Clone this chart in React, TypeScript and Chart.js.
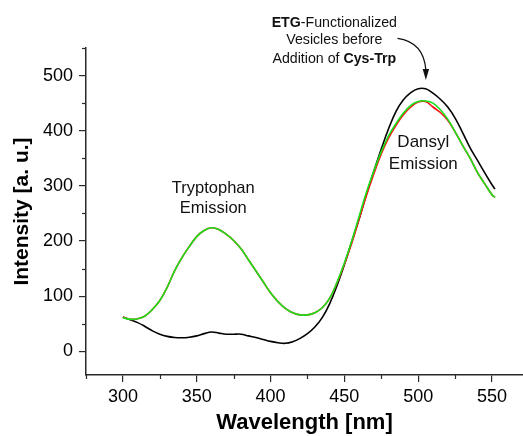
import { useEffect, useRef } from "react";
import { Chart, registerables } from "chart.js";

Chart.register(...registerables);

const wavelengths = [
  300, 305, 310, 315, 320, 325, 330, 335, 340, 345, 350, 355, 360, 365, 370, 375, 380, 385, 390, 395,
  400, 405, 410, 415, 420, 425, 430, 435, 440, 445, 450, 455, 460, 465, 470, 475, 480, 485, 490, 495,
  500, 505, 510, 515, 520, 525, 530, 535, 540, 545, 550, 552,
];

const beforeCysTrp = [
  62, 57, 52, 45, 37, 31, 27, 25, 24.5, 25.5, 28, 32, 35, 33, 31, 31, 31, 28, 25, 21.5,
  18, 15.5, 14.5, 17.5, 23.5, 32, 44, 61, 86, 119, 157, 199, 240, 285, 327, 367, 404, 435, 456, 469,
  476, 476, 468, 457, 443, 423, 397, 370, 347, 324, 302, 294,
];

const afterCysTrpRed = [
  62, 58, 59, 64, 76, 92, 116, 146, 170, 190, 208, 219, 224, 221, 212, 201, 186, 166, 146, 126,
  106, 90, 78, 70, 66, 66, 70, 79, 96, 124, 158, 196, 240, 283, 322, 358, 387, 410, 429, 443,
  452, 453, 443, 433, 419, 398, 374, 351, 325, 304, 284, 279,
];

const afterCysTrpGreen = [
  61, 58, 59, 64, 76, 92, 116, 146, 170, 190, 208, 219, 224, 221, 212, 201, 186, 166, 146, 126,
  106, 90, 78, 70, 66, 66, 70, 79, 96, 125, 160, 200, 245, 289, 327, 362, 391, 413, 432, 446,
  453, 454, 450, 438, 421, 398, 374, 351, 325, 304, 284, 279,
];

const xTickValues = [300, 350, 400, 450, 500, 550];
const yTickValues = [0, 100, 200, 300, 400, 500];
const xMinorTicks = [275, 325, 375, 425, 475, 525, 575];
const yMinorTicks = [50, 150, 250, 350, 450, 550];

const FONT = "'Liberation Sans', Arial, Helvetica, sans-serif";
const AXIS_COLOR = "#2a2a2a";

type Part = [string, boolean];
type Label = { parts: Part[]; x: number; y: number; size: number };

const textLabels: Label[] = [
  { parts: [["Tryptophan", false]], x: 361.2, y: 286.5, size: 16.5 },
  { parts: [["Emission", false]], x: 361.2, y: 251, size: 16.5 },
  { parts: [["Dansyl", false]], x: 503.5, y: 370, size: 17 },
  { parts: [["Emission", false]], x: 503.5, y: 330, size: 17 },
  { parts: [["ETG", true], ["-Functionalized", false]], x: 443.2, y: 588.7, size: 14.2 },
  { parts: [["Vesicles before", false]], x: 443.2, y: 556.7, size: 14.2 },
  { parts: [["Addition of ", false], ["Cys-Trp", true]], x: 443.2, y: 522.3, size: 14.2 },
];

const arrowPath = {
  start: { x: 486, y: 567.6 },
  control: { x: 503.8, y: 560.9 },
  end: { x: 505.2, y: 510.1 },
  tip: { x: 505.2, y: 492 },
};

const overlayPlugin = {
  id: "overlay",
  afterDraw(chart: any) {
    const { ctx, chartArea, scales } = chart;
    const xs = scales.x;
    const ys = scales.y;
    ctx.save();
    // minor ticks
    ctx.strokeStyle = AXIS_COLOR;
    ctx.lineWidth = 1.2;
    xMinorTicks.forEach((v) => {
      const px = Math.round(xs.getPixelForValue(v)) + 0.5;
      if (px > chart.width) return;
      ctx.beginPath();
      ctx.moveTo(px, chartArea.bottom);
      ctx.lineTo(px, chartArea.bottom + 4);
      ctx.stroke();
    });
    yMinorTicks.forEach((v) => {
      const py = Math.round(ys.getPixelForValue(v)) + 0.5;
      ctx.beginPath();
      ctx.moveTo(chartArea.left, py);
      ctx.lineTo(chartArea.left - 4, py);
      ctx.stroke();
    });

    // text labels
    ctx.fillStyle = "#111";
    ctx.textBaseline = "alphabetic";
    ctx.textAlign = "left";
    textLabels.forEach((lab) => {
      const widths = lab.parts.map(([t, b]) => {
        ctx.font = `${b ? "bold " : ""}${lab.size}px ${FONT}`;
        return ctx.measureText(t).width;
      });
      const total = widths.reduce((a, b) => a + b, 0);
      let cx = xs.getPixelForValue(lab.x) - total / 2;
      const cy = ys.getPixelForValue(lab.y);
      lab.parts.forEach(([t, b], i) => {
        ctx.font = `${b ? "bold " : ""}${lab.size}px ${FONT}`;
        ctx.fillText(t, cx, cy);
        cx += widths[i];
      });
    });

    // arrow
    const p = (pt: { x: number; y: number }) => [xs.getPixelForValue(pt.x), ys.getPixelForValue(pt.y)];
    const [sx, sy] = p(arrowPath.start);
    const [qx, qy] = p(arrowPath.control);
    const [ex, ey] = p(arrowPath.end);
    const [tx, ty] = p(arrowPath.tip);
    ctx.strokeStyle = "#111";
    ctx.lineWidth = 1.3;
    ctx.beginPath();
    ctx.moveTo(sx, sy);
    ctx.quadraticCurveTo(qx, qy, ex, ey);
    ctx.stroke();
    ctx.fillStyle = "#111";
    ctx.beginPath();
    ctx.moveTo(tx, ty);
    ctx.lineTo(tx - 3.2, ey - 1);
    ctx.lineTo(tx + 3.2, ey - 1);
    ctx.closePath();
    ctx.fill();
    ctx.restore();
  },
};

export default function App() {
  const canvasRef = useRef<HTMLCanvasElement | null>(null);

  useEffect(() => {
    const canvas = canvasRef.current;
    if (!canvas) return;
    const toPoints = (vals: number[]) => wavelengths.map((w, i) => ({ x: w, y: vals[i] }));
    const lineStyle = { borderWidth: 1.6, pointRadius: 0, fill: false, tension: 0.4 };
    const chart = new Chart(canvas, {
      type: "line",
      data: {
        datasets: [
          { label: "After (green)", data: toPoints(afterCysTrpGreen), borderColor: "#19e019", ...lineStyle },
          { label: "After (red)", data: toPoints(afterCysTrpRed), borderColor: "#ff1010", ...lineStyle },
          { label: "Before", data: toPoints(beforeCysTrp), borderColor: "#000000", ...lineStyle },
        ],
      },
      options: {
        responsive: false,
        maintainAspectRatio: false,
        devicePixelRatio: 1,
        animation: false,
        layout: { padding: { top: 48, left: 0, right: 0, bottom: 0 } },
        plugins: { legend: { display: false }, tooltip: { enabled: false } },
        scales: {
          x: {
            type: "linear",
            min: 275,
            max: 571,
            afterBuildTicks: (s: any) => {
              s.ticks = xTickValues.map((v) => ({ value: v }));
            },
            afterFit: (s: any) => {
              s.height = 61;
            },
            grid: {
              display: true,
              drawOnChartArea: false,
              drawTicks: true,
              tickLength: 7,
              color: AXIS_COLOR,
              lineWidth: 1.2,
            },
            border: { display: true, color: AXIS_COLOR, width: 1.5 },
            ticks: {
              color: "#000",
              font: { size: 18, family: FONT },
              padding: 4,
              maxRotation: 0,
              autoSkip: false,
            },
            title: {
              display: true,
              text: "Wavelength [nm]",
              color: "#000",
              font: { size: 22, weight: "bold", family: FONT },
              padding: { top: 0, bottom: 0 },
            },
          },
          y: {
            type: "linear",
            min: -43,
            max: 550,
            afterBuildTicks: (s: any) => {
              s.ticks = yTickValues.map((v) => ({ value: v }));
            },
            afterFit: (s: any) => {
              s.width = 86;
            },
            grid: {
              display: true,
              drawOnChartArea: false,
              drawTicks: true,
              tickLength: 7,
              color: AXIS_COLOR,
              lineWidth: 1.2,
            },
            border: { display: true, color: AXIS_COLOR, width: 1.5 },
            ticks: {
              color: "#000",
              font: { size: 18, family: FONT },
              padding: 6,
              autoSkip: false,
            },
            title: {
              display: true,
              text: "Intensity [a. u.]",
              color: "#000",
              font: { size: 21, weight: "bold", family: FONT },
              padding: { top: 10, bottom: 0 },
            },
          },
        },
      },
      plugins: [overlayPlugin],
    } as any);
    return () => chart.destroy();
  }, []);

  return (
    <div style={{ position: "fixed", left: 0, top: 0, width: 523, height: 436, background: "#fff" }}>
      <canvas ref={canvasRef} width={523} height={436} style={{ display: "block" }} />
    </div>
  );
}
